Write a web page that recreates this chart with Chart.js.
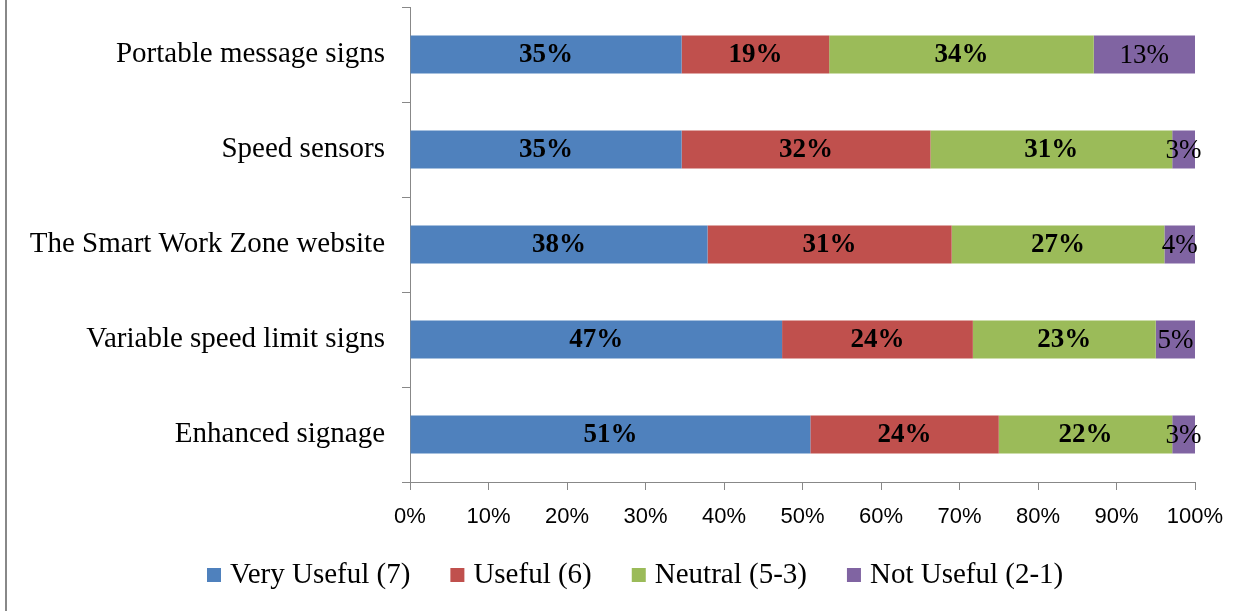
<!DOCTYPE html>
<html>
<head>
<meta charset="utf-8">
<script src="https://cdn.jsdelivr.net/npm/chart.js@4/dist/chart.umd.min.js"></script>
<style>
  html, body { margin: 0; padding: 0; background: #fff; }
  #wrap { width: 1253px; height: 611px; position: relative; }
</style>
</head>
<body>
<div id="wrap"><canvas id="c" width="1253" height="611"></canvas></div>
<script>
const categories = [
  'Portable message signs',
  'Speed sensors',
  'The Smart Work Zone website',
  'Variable speed limit signs',
  'Enhanced signage'
];
const seriesNames = ['Very Useful (7)', 'Useful (6)', 'Neutral (5-3)', 'Not Useful (2-1)'];
const veryUseful = [34.6, 34.6, 37.9, 47.4, 51.0];
const useful     = [18.8, 31.7, 31.1, 24.3, 24.0];
const neutral    = [33.7, 30.8, 27.1, 23.3, 22.1];
const notUseful  = [12.9, 2.9, 3.9, 5.0, 2.9];
const labelPct = [
  [35, 35, 38, 47, 51],
  [19, 32, 31, 24, 24],
  [34, 31, 27, 23, 22],
  [13, 3, 4, 5, 3]
];
const xTicks = [0, 10, 20, 30, 40, 50, 60, 70, 80, 90, 100];
const colors = ['#4F81BD', '#C0504D', '#9BBB59', '#8064A2'];

const serif = "'Liberation Serif', 'Times New Roman', serif";

const barLabels = {
  id: 'barLabels',
  afterDatasetsDraw(chart) {
    const ctx = chart.ctx;
    ctx.save();
    ctx.textAlign = 'center';
    ctx.textBaseline = 'middle';
    ctx.fillStyle = '#000';
    chart.data.datasets.forEach((ds, di) => {
      const meta = chart.getDatasetMeta(di);
      ctx.font = (di < 3 ? 'bold ' : '') + '27px ' + serif;
      meta.data.forEach((el, i) => {
        const cx = (el.x + el.base) / 2;
        ctx.fillText(labelPct[di][i] + '%', cx, el.y + 1);
      });
    });
    ctx.restore();
  }
};

const customLegend = {
  id: 'customLegend',
  afterDraw(chart) {
    const ctx = chart.ctx;
    ctx.save();
    ctx.font = '29px ' + serif;
    ctx.textBaseline = 'middle';
    ctx.textAlign = 'left';
    let x = 207;
    const yc = 575;
    chart.data.datasets.forEach((ds) => {
      ctx.fillStyle = ds.backgroundColor;
      ctx.fillRect(x, yc - 7, 14, 14);
      x += 14 + 9;
      ctx.fillStyle = '#000';
      ctx.fillText(ds.label, x, yc);
      x += ctx.measureText(ds.label).width + 40;
    });
    ctx.restore();
  }
};

const frame = {
  id: 'frame',
  beforeDraw(chart) {
    const ctx = chart.ctx;
    ctx.save();
    ctx.strokeStyle = '#888';
    ctx.lineWidth = 2;
    ctx.beginPath();
    ctx.moveTo(6, 0);
    ctx.lineTo(6, chart.height);
    ctx.stroke();
    ctx.restore();
  }
};

const datasets = [veryUseful, useful, neutral, notUseful].map((d, i) => ({
  label: seriesNames[i],
  data: d,
  backgroundColor: colors[i],
  borderWidth: 0,
  barPercentage: 0.4,
  categoryPercentage: 1.0
}));

new Chart(document.getElementById('c'), {
  type: 'bar',
  data: { labels: categories, datasets },
  options: {
    indexAxis: 'y',
    responsive: false,
    animation: false,
    devicePixelRatio: 1,
    layout: { padding: { top: 7, right: 58, left: 0, bottom: 69 } },
    plugins: {
      tooltip: { enabled: false },
      legend: { display: false }
    },
    scales: {
      x: {
        stacked: true,
        min: 0,
        max: 100,
        afterBuildTicks(s) { s.ticks = xTicks.map(v => ({ value: v })); },
        ticks: {
          callback: v => v + '%',
          font: { family: "'Liberation Sans', Arial, sans-serif", size: 22 },
          color: '#000',
          padding: 14,
          maxRotation: 0
        },
        grid: { drawOnChartArea: false, drawTicks: true, tickLength: 8, color: '#888' },
        border: { display: true, color: '#888', width: 1 },
        afterFit(s) { s.height = 60; }
      },
      y: {
        stacked: true,
        ticks: {
          font: { family: serif, size: 29 },
          color: '#000',
          padding: 17
        },
        grid: { drawOnChartArea: false, drawTicks: true, tickLength: 8, color: '#888', offset: true },
        border: { display: true, color: '#888', width: 1 },
        afterFit(s) { s.width = 410; s.paddingTop = 0; s.paddingBottom = 0; }
      }
    }
  },
  plugins: [barLabels, customLegend, frame]
});
</script>
</body>
</html>
